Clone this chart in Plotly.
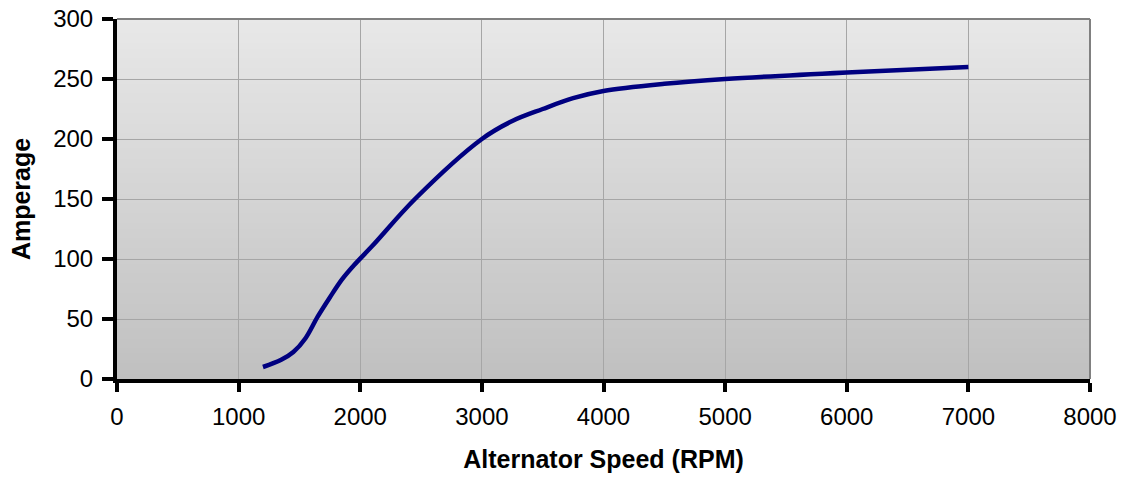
import plotly.graph_objects as go

# Data
rpm = [1200, 1350, 1450, 1550, 1650, 1750, 1850, 1950, 2100, 2450, 3000, 3250, 3500, 3750, 4000, 4500, 5000, 6000, 7000]
amps = [10, 16, 22.5, 34, 52, 68, 83, 95, 111, 150, 200, 215, 225, 234, 240, 246, 250, 255.5, 260]

x_ticks = [0, 1000, 2000, 3000, 4000, 5000, 6000, 7000, 8000]
y_ticks = [0, 50, 100, 150, 200, 250, 300]

FONT = "Liberation Sans, Arial, sans-serif"

fig = go.Figure()
fig.add_trace(go.Scatter(
    x=rpm, y=amps, mode="lines",
    line=dict(color="#000080", width=4.5, shape="spline", smoothing=1.0),
    hoverinfo="skip", showlegend=False,
))

# vertical gradient background (light top -> darker bottom)
shapes = []
n = 72
top = (232, 232, 232)
bot = (192, 192, 192)
for i in range(n):
    t = (i + 0.5) / n
    c = tuple(round(top[k] + (bot[k] - top[k]) * t) for k in range(3))
    shapes.append(dict(type="rect", xref="paper", yref="paper",
                       x0=0, x1=1, y0=1 - (i + 1) / n, y1=1 - i / n + 0.002,
                       fillcolor="rgb(%d,%d,%d)" % c, line=dict(width=0), layer="below"))
# gray border on top and right
shapes.append(dict(type="line", xref="paper", yref="paper", x0=0, x1=1, y0=1, y1=1,
                   line=dict(color="#808080", width=2)))
shapes.append(dict(type="line", xref="paper", yref="paper", x0=1, x1=1, y0=0, y1=1,
                   line=dict(color="#808080", width=2)))

fig.update_layout(
    width=1122, height=478,
    margin=dict(l=117, r=32, t=19, b=99, autoexpand=False),
    paper_bgcolor="white", plot_bgcolor="rgba(0,0,0,0)",
    font=dict(family=FONT, size=24, color="black"),
    shapes=shapes,
    xaxis=dict(
        range=[0, 8000], tickvals=x_ticks, ticktext=[str(v) for v in x_ticks],
        showgrid=True, gridcolor="#a6a6a6", gridwidth=1, zeroline=False,
        showline=True, linecolor="black", linewidth=4,
        ticks="outside", ticklen=9, tickwidth=4, tickcolor="black",
        tickfont=dict(size=24), ticklabelstandoff=4, automargin=False,
        title=dict(text="<b>Alternator Speed (RPM)</b>", font=dict(size=25), standoff=23),
        layer="above traces",
    ),
    yaxis=dict(
        range=[0, 300], tickvals=y_ticks, ticktext=[str(v) for v in y_ticks],
        showgrid=True, gridcolor="#a6a6a6", gridwidth=1, zeroline=False,
        showline=True, linecolor="black", linewidth=4,
        ticks="outside", ticklen=11, tickwidth=4, tickcolor="black",
        tickfont=dict(size=24), ticklabelstandoff=4, automargin=False,
        title=dict(text="<b>Amperage</b>", font=dict(size=25), standoff=16),
        layer="above traces",
    ),
)

fig.write_html(
    "out.html",
    config={"displayModeBar": False},
    post_script="document.body.style.margin='0';document.body.style.overflow='hidden';",
)
